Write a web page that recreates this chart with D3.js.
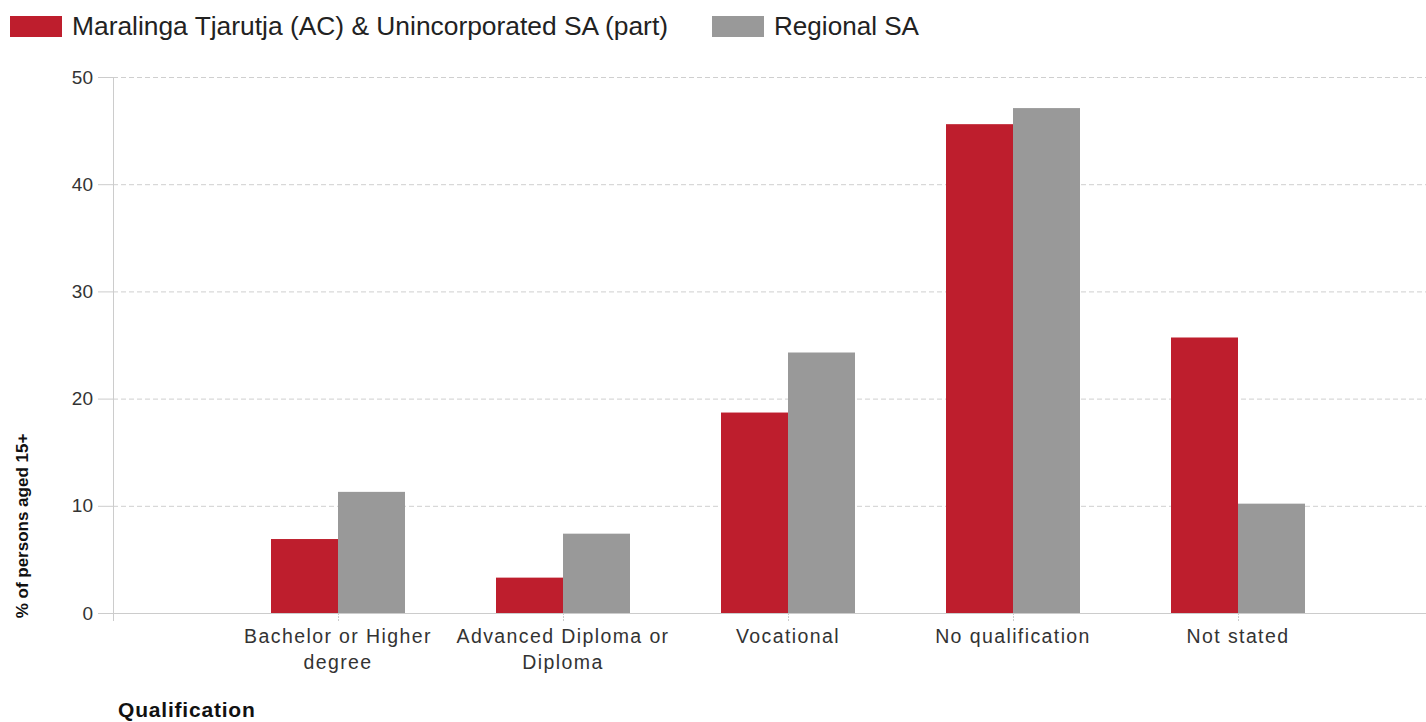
<!DOCTYPE html>
<html lang="en">
<head>
<meta charset="UTF-8">
<title>Qualification chart</title>
<script src="https://d3js.org/d3.v7.min.js"></script>
<style>
  body { margin: 0; background: #fff; }
  text { font-family: Arial, "Liberation Sans", sans-serif; }
</style>
</head>
<body>
<div id="chart"></div>
<script>
// data
const categories = ["Bachelor or Higher degree", "Advanced Diploma or Diploma", "Vocational", "No qualification", "Not stated"];
const labelLines = [["Bachelor or Higher", "degree"], ["Advanced Diploma or", "Diploma"], ["Vocational"], ["No qualification"], ["Not stated"]];
const seriesNames = ["Maralinga Tjarutja (AC) & Unincorporated SA (part)", "Regional SA"];
const maralinga = [6.9, 3.3, 18.7, 45.6, 25.7];
const regionalSA = [11.3, 7.4, 24.3, 47.1, 10.2];
const yTicks = [0, 10, 20, 30, 40, 50];
const colors = ["#be1e2d", "#999999"];

const W = 1426, H = 722;
const plotLeft = 113, plotTop = 77, plotBottom = 613;

const svg = d3.select("#chart").append("svg")
    .attr("width", W).attr("height", H);

// first slot is empty, categories sit one step to the right of the axis
const x = d3.scalePoint()
    .domain(["", ...categories])
    .range([plotLeft, plotLeft + 225 * categories.length]);
const y = d3.scaleLinear().domain([0, 50]).range([plotBottom, plotTop]);
const barW = 67;

// grid
svg.append("g").selectAll("line")
    .data(yTicks.filter(d => d > 0))
    .enter().append("line")
    .attr("x1", plotLeft).attr("x2", W)
    .attr("y1", d => y(d) + 0.5).attr("y2", d => y(d) + 0.5)
    .attr("stroke", "#cfcfcf")
    .attr("stroke-dasharray", "5,3");

// y tick marks + labels
const yg = svg.append("g");
yg.selectAll("line").data(yTicks).enter().append("line")
    .attr("x1", 98).attr("x2", plotLeft)
    .attr("y1", d => y(d) + 0.5).attr("y2", d => y(d) + 0.5)
    .attr("stroke", "#cccccc");
yg.selectAll("text").data(yTicks).enter().append("text")
    .attr("x", 93).attr("y", d => y(d))
    .attr("dy", "0.35em")
    .attr("text-anchor", "end")
    .attr("font-size", 19)
    .attr("fill", "#333")
    .text(d => d);

// axis lines
svg.append("line")
    .attr("x1", plotLeft + 0.5).attr("x2", plotLeft + 0.5)
    .attr("y1", plotTop).attr("y2", plotBottom + 8)
    .attr("stroke", "#cccccc");
svg.append("line")
    .attr("x1", plotLeft).attr("x2", W)
    .attr("y1", plotBottom + 0.5).attr("y2", plotBottom + 0.5)
    .attr("stroke", "#cccccc");

// bars
const series = [maralinga, regionalSA];
series.forEach((vals, s) => {
    svg.append("g").selectAll("rect")
        .data(vals)
        .enter().append("rect")
        .attr("x", (d, i) => x(categories[i]) - barW + s * barW)
        .attr("y", d => y(d))
        .attr("width", barW)
        .attr("height", d => plotBottom - y(d))
        .attr("fill", colors[s]);
});

// x ticks + labels
const xg = svg.append("g");
xg.selectAll("line").data(categories).enter().append("line")
    .attr("x1", d => x(d) + 0.5).attr("x2", d => x(d) + 0.5)
    .attr("y1", plotBottom).attr("y2", plotBottom + 8)
    .attr("stroke", "#cccccc")
    .attr("stroke-dasharray", "2,1");
const lbl = xg.selectAll("text").data(categories).enter().append("text")
    .attr("text-anchor", "middle")
    .attr("font-size", 19.5)
    .attr("letter-spacing", 1.4)
    .attr("fill", "#333");
lbl.each(function(d, i) {
    d3.select(this).selectAll("tspan").data(labelLines[i]).enter().append("tspan")
        .attr("x", x(d))
        .attr("y", (t, j) => 643 + j * 26)
        .text(t => t);
});

// axis titles
svg.append("text")
    .attr("transform", "translate(28,526) rotate(-90)")
    .attr("text-anchor", "middle")
    .attr("font-size", 17)
    .attr("font-weight", "bold")
    .attr("fill", "#111")
    .text("% of persons aged 15+");
svg.append("text")
    .attr("x", 118).attr("y", 717)
    .attr("font-size", 21)
    .attr("font-weight", "bold")
    .attr("letter-spacing", 0.8)
    .attr("fill", "#111")
    .text("Qualification");

// legend
const legendX = [10, 712];
const legendLen = [596, 145];
const lg = svg.append("g").selectAll("g")
    .data(seriesNames).enter().append("g")
    .attr("transform", (d, i) => `translate(${legendX[i]},0)`);
lg.append("rect")
    .attr("x", 0).attr("y", 16)
    .attr("width", 52).attr("height", 21)
    .attr("fill", (d, i) => colors[i]);
lg.append("text")
    .attr("x", 62).attr("y", 35)
    .attr("font-size", 26)
    .attr("textLength", (d, i) => legendLen[i])
    .attr("lengthAdjust", "spacingAndGlyphs")
    .attr("fill", "#222")
    .text(d => d);
</script>
</body>
</html>
